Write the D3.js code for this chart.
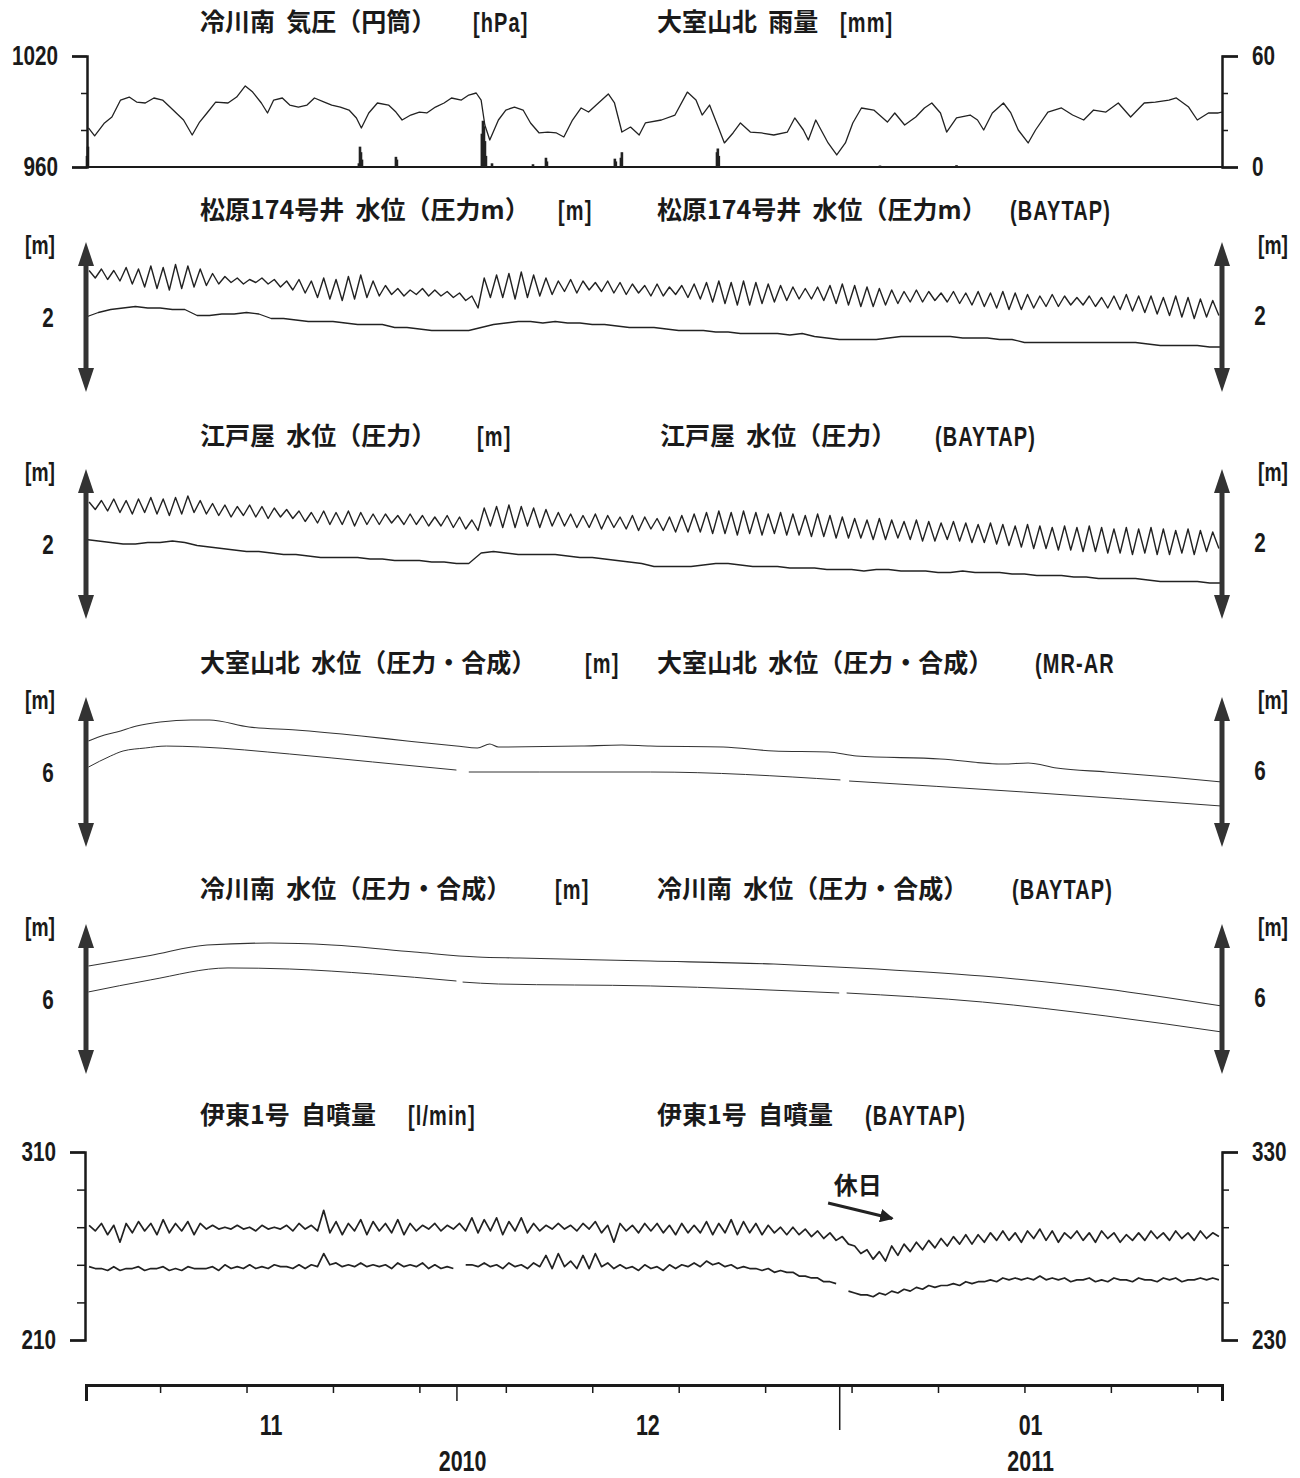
<!DOCTYPE html>
<html lang="ja">
<head>
<meta charset="utf-8">
<title>地下水位・自噴量</title>
<script src="https://cdn.jsdelivr.net/npm/d3@7"></script>
<style>
  body { margin: 0; background: #fff; }
  text { fill: #1a1a1a; white-space: pre; }
  .title { font-family: "Noto Sans CJK JP", sans-serif; font-size: 25px; font-weight: 700; }
  .num, .axis text { font-family: "Liberation Sans", Arial, sans-serif; font-weight: 700; font-size: 28px; fill: #1a1a1a; }
  .unit { letter-spacing: 1.5px; }
  .axis path, .axis line { stroke: #1a1a1a; }
</style>
</head>
<body>
<script>
var START = Date.UTC(2010, 10, 1);
var END = Date.UTC(2011, 1, 1);
var DAY = 864e5;

/* 冷川南 気圧 [hPa] : 日(11/01からの経過日) と値 */
var pressDay = [0.2,0.7,1.5,2.1,2.8,3.5,4.1,4.8,5.5,6.2,6.8,7.9,8.6,9.2,9.8,10.5,11.5,12.2,12.9,13.5,
  14.2,14.7,15.2,15.9,16.5,17.2,17.9,18.5,19.3,19.9,20.6,21.3,21.9,22.3,22.9,23.6,24.5,25.1,25.6,26.3,
  27.0,27.6,28.3,29.0,29.6,30.4,31.0,31.6,32.0,32.3,32.7,33.4,34.0,34.7,35.4,36.0,36.7,37.4,38.1,38.7,
  39.4,40.1,40.7,41.5,42.3,42.8,43.4,44.1,44.8,45.3,46.6,47.7,48.7,49.4,49.9,50.5,51.2,51.7,52.4,53.0,
  53.8,54.7,55.7,56.8,57.4,58.1,58.5,59.1,59.4,60.1,60.8,61.5,62.1,62.8,63.8,64.9,65.5,66.3,67.2,67.9,
  68.5,69.2,69.7,70.5,71.6,72.2,72.7,73.4,74.3,74.9,75.5,76.3,76.9,77.9,79.0,79.9,80.8,81.6,82.6,83.6,
  84.6,85.7,86.6,87.7,88.3,89.3,90.0,90.9,91.7,92.0];
var pressHpa = [981.1,976.8,983.8,987.0,996.2,997.8,995.1,994.6,997.3,996.2,992.4,985.4,977.3,984.3,989.2,995.1,994.6,997.8,1003.8,1000.5,
  994.6,989.2,996.2,997.3,993.5,992.4,993.5,997.3,995.1,993.5,992.4,990.8,986.5,981.1,989.2,994.6,993.5,989.7,985.4,988.1,
  989.7,989.2,992.4,994.6,997.3,996.2,998.9,1000.0,996.2,982.7,974.6,985.4,990.8,992.4,990.8,983.8,978.4,978.9,978.4,976.2,
  985.4,991.9,989.7,994.6,999.5,994.6,978.9,981.6,977.3,983.8,985.4,988.1,1000.5,996.2,988.1,993.5,981.6,973.0,978.4,983.8,
  978.9,978.4,977.3,978.9,986.5,980.0,974.6,985.4,981.6,973.0,966.5,973.0,983.8,991.9,990.8,984.3,989.2,982.7,987.0,991.9,
  994.6,989.2,978.9,986.5,988.1,985.4,980.0,989.2,994.6,989.2,980.0,973.0,980.0,989.7,991.9,988.1,985.4,990.8,989.7,994.6,
  987.0,994.6,995.1,996.2,997.3,992.4,985.4,989.2,989.2,989.7];

/* 大室山北 雨量 [mm] */
var rainDay = [0.08,0.16,22.1,22.19,22.27,22.35,25.1,25.18,32.06,32.15,32.23,32.31,32.39,32.88,36.2,37.25,37.33,42.83,42.91,43.32,43.4,51.1,51.17,51.25,64.3,70.5];
var rainMm = [6,11,2,11,8,4,5.5,4,18,25,22,14,6,2,1.5,5,3,4.5,3,5,8,8,10,6,0.8,1];

/* 松原174号井 水位 [cm] 12時間ごと (11/01 06時から) */
var matsuRawCm = [231,226,232,225,231,224,233,222,232,220,234,219,233,218,235,219,234,220,232,221,
  229,222,227,223,226,222,225,223,226,222,225,220,224,218,225,216,224,213,226,212,
  225,211,227,212,228,213,224,214,221,215,219,214,218,215,219,214,218,214,217,213,
  216,211,214,206,226,213,228,213,229,212,230,213,228,214,226,215,224,217,225,216,
  224,218,223,217,224,216,223,215,222,216,221,214,222,214,220,215,221,213,222,212,
  223,210,224,209,223,208,224,208,223,209,222,210,221,211,220,212,219,212,220,211,
  221,209,222,208,221,207,220,207,219,208,218,209,217,210,218,210,217,211,216,210,
  217,209,216,208,217,207,216,206,217,205,216,205,215,206,214,207,215,207,214,208,
  213,208,214,207,213,206,214,205,215,204,214,203,214,202,213,201,214,200,213,199,
  212,200,211,201];
/* 松原174号井 水位 (BAYTAP) [cm] 日ごと */
var matsuBayCm = [200,203,205,206,207,206,206,205,205,201, 201,202,202,203,202,199,199,198,197,197,
  197,196,195,195,195,193,193,192,191,191, 191,191,193,195,196,197,197,196,197,196,
  196,195,195,194,193,193,193,192,191,191, 191,190,190,189,189,189,189,188,189,187,
  186,185,185,185,185,186,187,187,187,187, 187,186,186,186,185,185,183,183,183,183,
  183,183,183,183,183,183,182,181,181,181, 181,180,180];

/* 江戸屋 水位 [cm] 12時間ごと */
var edoRawCm = [228,223,229,222,230,221,229,220,230,221,231,220,230,219,231,220,232,221,229,220,
  227,219,226,218,225,219,226,218,225,217,224,218,223,217,222,215,221,214,222,213,
  221,213,222,212,221,213,220,213,220,214,219,213,220,213,219,212,218,212,219,211,
  218,210,216,209,224,212,225,211,226,211,225,212,224,211,223,212,221,212,220,211,
  219,211,220,210,219,211,218,210,219,209,218,210,217,209,218,208,219,208,220,208,
  221,207,222,207,221,206,222,207,221,206,220,207,221,206,220,206,219,205,220,205,
  219,204,218,204,217,204,216,203,217,203,216,204,215,203,216,202,215,202,214,203,
  215,202,214,201,213,201,214,200,213,199,212,198,213,197,212,197,211,196,212,196,
  211,195,212,195,211,194,210,194,211,193,210,194,211,193,210,193,209,194,210,193,
  209,195,208,197];
/* 江戸屋 水位 (BAYTAP) [cm] 日ごと */
var edoBayCm = [203,202,201,200,200,201,201,202,201,199, 198,197,196,195,195,194,193,193,192,191,
  191,191,191,190,190,189,189,189,188,188, 187,187,194,195,194,193,193,193,193,192,
  191,191,190,189,188,187,185,185,185,185, 186,187,187,186,185,185,185,184,184,184,
  183,183,183,182,183,183,182,182,182,181, 181,182,181,181,181,180,180,179,179,179,
  178,178,177,177,177,177,176,175,175,175, 175,174,174];

/* 大室山北 水位 (圧力・合成) [cm] */
var omuroDay = [0.2,1.5,2.5,4.1,6,8.5,10,13.2,17,22.3,26,30.0,31.7,32.7,33.4,40.1,43.4,45.7,51.6,55.7,60.1,62.4,69.2,74.3,76.3,78.6,82.6,87.7,92];
var omuroCm = [620.7,624.7,626.7,630.7,633.3,634.7,634.7,630,628,624,620.7,617.3,616,618.7,616.7,617.3,618,617.3,616.7,614,613.3,610.7,608.7,605.3,606,602.7,600,596.7,593.3];
/* 大室山北 水位 (MR-AR) [cm] */
var omuroArDay = [0.2,2,3,4.8,6.5,9.2,16.5,23.2,30.0,30.5,31.0,36.7,45.7,61.1,61.4,61.8,75.9,92];
var omuroArCm = [603.3,610.7,614,616,617.3,616.7,612,606.7,601.3,null,600,600,600,594.7,null,594,586.7,577.3];

/* 冷川南 水位 (圧力・合成) [cm] */
var hieDay = [0.2,5.2,9.8,14.9,19.9,26.6,31.7,35.1,45.7,55.7,62.4,72.6,82.6,92];
var hieCm = [622,629,636,637.3,636,631.3,628,627.3,625.3,623.3,620.7,615.3,606.7,595.3];
/* 冷川南 水位 (BAYTAP) [cm] */
var hieBayDay = [0.2,5.2,11.5,16.5,23.2,30.0,30.3,30.5,33.4,45.7,61.0,61.3,61.6,72.6,82.6,92];
var hieBayCm = [604.7,612.7,620.7,620,616.7,612,null,611.3,610,608.7,604,null,604,598,588.7,578];

/* 伊東1号 自噴量 [l/min] 12時間ごと */
var itoRaw = [271,268,272,266,271,262,272,267,273,268,272,266,274,267,272,268,273,266,272,269,
  271,269,270,269,271,269,270,268,271,269,270,269,271,268,272,269,271,268,279,267,
  273,266,272,268,274,266,273,268,272,267,274,266,272,268,271,269,272,268,271,269,
  272,268,275,267,274,268,275,266,273,268,275,267,272,268,271,269,272,269,271,268,
  272,269,273,267,271,262,272,268,271,267,272,268,272,267,271,266,272,267,271,267,
  273,266,272,267,274,266,273,267,272,266,271,267,270,266,270,266,269,265,268,264,
  267,263,265,261,260,256,258,253,257,252,260,255,261,257,262,258,263,259,264,260,
  265,261,266,261,266,262,267,263,268,263,267,262,268,264,269,263,268,262,267,264,
  268,263,267,262,268,264,267,262,266,263,267,263,268,264,267,263,268,264,267,263,
  268,264,267,265];
/* 伊東1号 自噴量 (BAYTAP) 12時間ごと */
var itoBay = [269,268,268,267,269,267,268,268,269,267,268,268,269,267,268,267,269,268,268,268,
  269,267,270,268,269,268,270,268,269,268,270,269,269,268,270,268,270,269,276,270,
  271,269,270,269,271,269,270,269,270,268,271,269,270,269,271,268,270,268,269,268,
  null,270,270,269,271,269,270,268,271,269,270,268,271,269,275,268,276,269,272,268,
  275,268,276,269,271,268,270,268,269,267,270,268,269,267,270,268,270,269,271,269,
  272,270,271,269,270,268,269,268,268,267,268,266,267,266,266,264,264,263,263,261,
  261,260,null,256,255,254,254,253,255,254,256,255,257,256,258,257,259,258,259,259,
  260,259,261,260,261,261,262,261,263,262,263,262,263,262,264,262,263,262,263,261,
  262,262,263,261,262,261,263,262,262,261,263,262,262,261,263,262,263,261,262,262,
  263,262,263,262];

/* 目盛・文字 */
var pressTicks = [960, 1020], pressMinor = [980, 1000];
var rainTicks = [0, 60], rainMinor = [20, 40];
var itoTicksL = [210, 310], itoMinorL = [230, 250, 270, 290];
var itoTicksR = [230, 330], itoMinorR = [250, 270, 290, 310];
var levelTicks = [200, 200, 600, 600];
var monthLabels = ["11", "12", "01"];
var yearLabels = ["2010", "2011"];
var titleLeft = ["冷川南  気圧（円筒）", "松原174号井  水位（圧力m）", "江戸屋  水位（圧力）", "大室山北  水位（圧力・合成）", "冷川南  水位（圧力・合成）", "伊東1号  自噴量"];
var unitLeft = ["[hPa]", "[m]", "[m]", "[m]", "[m]", "[l/min]"];
var titleRight = ["大室山北  雨量", "松原174号井  水位（圧力m）", "江戸屋  水位（圧力）", "大室山北  水位（圧力・合成）", "冷川南  水位（圧力・合成）", "伊東1号  自噴量"];
var unitRight = ["[mm]", "(BAYTAP)", "(BAYTAP)", "(MR-AR", "(BAYTAP)", "(BAYTAP)"];

/* レイアウト */
var SQ = 0.74; // 英数字の横幅を詰める
var titleY = [22, 210, 436, 663, 889, 1115];
var unitLeftX = [473, 558, 477, 585, 555, 408];
var titleRightX = [657, 657, 660, 657, 657, 657];
var unitRightX = [840, 1010, 935, 1035, 1012, 865];

function at(d) { return new Date(START + d * DAY); }
function halfDaily(vals) { return vals.map(function (v, i) { return { t: at(0.25 + i * 0.5), v: v }; }); }
function daily(vals) { return vals.map(function (v, i) { return { t: at(i), v: v }; }); }
function paired(days, vals) { return days.map(function (d, i) { return { t: at(d), v: vals[i] }; }); }

var svg = d3.select("body").append("svg").attr("width", 1300).attr("height", 1478);

var x = d3.scaleUtc().domain([new Date(START), new Date(END)]).range([86, 1222]);
var yPress = d3.scaleLinear().domain([960, 1020]).range([167, 56]);
var yRain = d3.scaleLinear().domain([0, 60]).range([167, 56]);
var yMatsu = d3.scaleLinear().domain([150, 250]).range([392, 242]);
var yEdo = d3.scaleLinear().domain([150, 250]).range([619, 469]);
var yOmuro = d3.scaleLinear().domain([550, 650]).range([847, 697]);
var yHie = d3.scaleLinear().domain([550, 650]).range([1074, 924]);
var yItoL = d3.scaleLinear().domain([210, 310]).range([1340, 1152]);
var yItoR = d3.scaleLinear().domain([230, 330]).range([1340, 1152]);

function label(xp, yp, str, anchor, size, cls) {
  return svg.append("text").attr("class", "num" + (cls ? " " + cls : ""))
    .attr("transform", "translate(" + xp + "," + yp + ") scale(" + SQ + ",1)")
    .attr("dy", "0.36em").attr("text-anchor", anchor || "start")
    .style("font-size", (size || 28) + "px").text(str);
}

/* タイトル */
titleY.forEach(function (ty, i) {
  svg.append("text").attr("class", "title").attr("x", 200).attr("y", ty).attr("dy", "0.36em").text(titleLeft[i]);
  label(unitLeftX[i], ty, unitLeft[i], "start", 27, "unit");
  svg.append("text").attr("class", "title").attr("x", titleRightX[i]).attr("y", ty).attr("dy", "0.36em").text(titleRight[i]);
  label(unitRightX[i], ty, unitRight[i], "start", 27, "unit");
});

function drawLine(data, y, width, color, curve) {
  var line = d3.line()
    .defined(function (d) { return d.v != null; })
    .x(function (d) { return x(d.t); })
    .y(function (d) { return y(d.v); })
    .curve(curve || d3.curveLinear);
  svg.append("path").datum(data)
    .attr("d", line)
    .attr("fill", "none")
    .attr("stroke", color || "#222")
    .attr("stroke-width", width)
    .attr("stroke-linejoin", "round");
}

function bracketAxis(xp, y, axisFn, major, minor, majorLen, minorLen) {
  var g = svg.append("g").attr("class", "axis").attr("transform", "translate(" + xp + ",0)");
  g.call(axisFn(y).tickValues(major).tickSize(majorLen).tickSizeOuter(majorLen).tickPadding(14).tickFormat(d3.format("d")));
  g.select(".domain").attr("stroke-width", 2.5);
  g.selectAll(".tick line").attr("stroke-width", 2);
  g.selectAll(".tick text").each(function () {
    var t = d3.select(this), tx = +t.attr("x");
    t.attr("x", 0).attr("transform", "translate(" + tx + ",0) scale(" + SQ + ",1)");
  });
  var m = svg.append("g").attr("class", "axis").attr("transform", "translate(" + xp + ",0)");
  m.call(axisFn(y).tickValues(minor).tickSize(minorLen).tickFormat(""));
  m.select(".domain").remove();
  m.selectAll(".tick line").attr("stroke-width", 1.5);
}

function scaleBar(xp, y) {
  var r = y.range(), bot = r[0], top = r[1];
  svg.append("line")
    .attr("x1", xp).attr("x2", xp).attr("y1", top + 20).attr("y2", bot - 20)
    .attr("stroke", "#333").attr("stroke-width", 5);
  svg.append("path")
    .attr("d", "M" + xp + "," + top + "l-8,24h16z M" + xp + "," + bot + "l-8,-24h16z")
    .attr("fill", "#333");
}

/* 1段目: 気圧・雨量 */
svg.append("line").attr("x1", x.range()[0]).attr("x2", x.range()[1])
  .attr("y1", yRain(0)).attr("y2", yRain(0)).attr("stroke", "#1a1a1a").attr("stroke-width", 2);
svg.selectAll("rect.rain").data(paired(rainDay, rainMm)).enter().append("rect")
  .attr("class", "rain")
  .attr("x", function (d) { return x(d.t) - 1.3; })
  .attr("width", 2.6)
  .attr("y", function (d) { return yRain(d.v); })
  .attr("height", function (d) { return yRain(0) - yRain(d.v); })
  .attr("fill", "#222");
drawLine(paired(pressDay, pressHpa), yPress, 1.3);
bracketAxis(87, yPress, d3.axisLeft, pressTicks, pressMinor, 15, 6);
bracketAxis(1222, yRain, d3.axisRight, rainTicks, rainMinor, 16, 6);

/* 2〜5段目: 水位 */
var levelPanels = [
  { y: yMatsu, left: halfDaily(matsuRawCm), right: daily(matsuBayCm), w: 1.4, c: "#222", curve: d3.curveLinear },
  { y: yEdo, left: halfDaily(edoRawCm), right: daily(edoBayCm), w: 1.4, c: "#222", curve: d3.curveLinear },
  { y: yOmuro, left: paired(omuroDay, omuroCm), right: paired(omuroArDay, omuroArCm), w: 1.1, c: "#333", curve: d3.curveMonotoneX },
  { y: yHie, left: paired(hieDay, hieCm), right: paired(hieBayDay, hieBayCm), w: 1.1, c: "#333", curve: d3.curveMonotoneX }
];
levelPanels.forEach(function (p, i) {
  drawLine(p.left, p.y, p.w, p.c, p.curve);
  drawLine(p.right, p.y, p.w - 0.1, p.c, p.curve);
  scaleBar(86, p.y);
  scaleBar(1222, p.y);
  var top = p.y.range()[1];
  var lab = d3.format("d")(levelTicks[i] / 100);
  label(40, top + 3, "[m]", "middle", 26);
  label(48, p.y(levelTicks[i]), lab, "middle", 28);
  label(1273, top + 3, "[m]", "middle", 26);
  label(1260, p.y(levelTicks[i]) - 2, lab, "middle", 28);
});

/* 6段目: 伊東1号 自噴量 */
drawLine(halfDaily(itoRaw), yItoL, 1.7);
drawLine(halfDaily(itoBay), yItoR, 1.7);
bracketAxis(85, yItoL, d3.axisLeft, itoTicksL, itoMinorL, 15, 8);
bracketAxis(1222, yItoR, d3.axisRight, itoTicksR, itoMinorR, 16, 7);

/* 休日 注記 */
svg.append("defs").append("marker")
  .attr("id", "head").attr("viewBox", "0 0 10 10").attr("refX", 9).attr("refY", 5)
  .attr("markerWidth", 4.5).attr("markerHeight", 4.5).attr("orient", "auto")
  .append("path").attr("d", "M0,0L10,5L0,10z").attr("fill", "#222");
svg.append("line")
  .attr("x1", x(at(60.1))).attr("y1", yItoL(282.9))
  .attr("x2", x(at(65.3))).attr("y2", yItoL(274.6))
  .attr("stroke", "#222").attr("stroke-width", 3).attr("marker-end", "url(#head)");
svg.append("text").attr("class", "title").style("font-size", "24px")
  .attr("x", x(at(62.5))).attr("y", yItoL(292.4))
  .attr("dy", "0.36em").attr("text-anchor", "middle").text("休日");

/* 時間軸 */
var sundays = d3.utcSunday.range(new Date(START), new Date(END));
var monthStarts = d3.utcMonth.range(new Date(START), new Date(END + 1));
var gB = svg.append("g").attr("class", "axis").attr("transform", "translate(0,1385)")
  .call(d3.axisBottom(x).tickValues(sundays.concat(monthStarts)).tickSize(8).tickSizeOuter(16).tickFormat(""));
gB.select(".domain").attr("stroke-width", 3);
gB.selectAll(".tick line")
  .attr("stroke-width", 1.5)
  .attr("y2", function (d) {
    if (d.getUTCDate() !== 1) return 8;
    return d.getUTCMonth() === 0 ? 45 : 16;
  });

monthLabels.forEach(function (lab, i) {
  var mid = new Date((monthStarts[i].getTime() + monthStarts[i + 1].getTime()) / 2);
  label(x(mid), 1425, lab, "middle", 29);
});
var yearSpans = [[monthStarts[0], monthStarts[2]], [monthStarts[2], monthStarts[3]]];
yearLabels.forEach(function (lab, i) {
  var mid = new Date((yearSpans[i][0].getTime() + yearSpans[i][1].getTime()) / 2);
  label(x(mid), 1461, lab, "middle", 29);
});
</script>
</body>
</html>
